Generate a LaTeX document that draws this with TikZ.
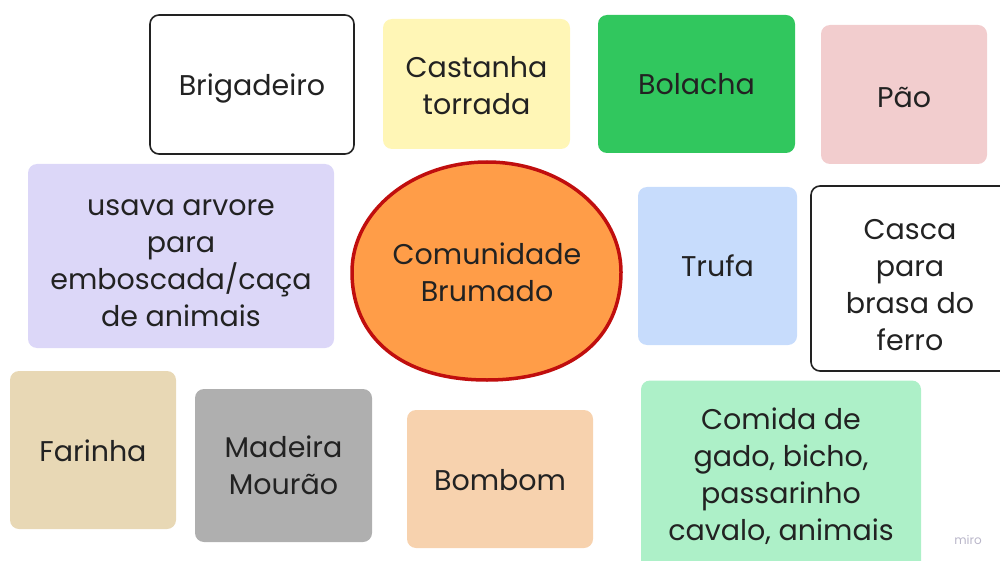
\documentclass[tikz,border=0pt]{standalone}
\usepackage{fontspec}
\setmainfont{Poppins}

\definecolor{inkc}{HTML}{222222}
\definecolor{yellowc}{HTML}{FFF6B6}
\definecolor{greenc}{HTML}{31C75E}
\definecolor{pinkc}{HTML}{F2CDCE}
\definecolor{lilacc}{HTML}{DCD7F8}
\definecolor{bluec}{HTML}{C7DCFC}
\definecolor{tanc}{HTML}{E8D8B5}
\definecolor{grayc}{HTML}{AFAFAF}
\definecolor{peachc}{HTML}{F7D2AE}
\definecolor{mintc}{HTML}{ADF0C8}
\definecolor{orangec}{HTML}{FF9D48}
\definecolor{redc}{HTML}{C00E0E}
\definecolor{miroc}{HTML}{B9B6C9}

\begin{document}
\begin{tikzpicture}[x=1pt, y=-1pt,
    label text/.style={inner sep=0pt, align=center, text=inkc,
      font=\fontsize{28.5}{37}\selectfont},
    card/.style={label text, rounded corners=9pt},
    outlined/.style={card, draw=inkc, line width=1.6pt, fill=white},
    drop/.style={execute at begin node={\rule{0pt}{#1}}}]

    % Page frame.
    \useasboundingbox (0, 0) rectangle (1000, 561);
    \clip (0, 0) rectangle (1000, 561);

    % Top row.
    \node[outlined, drop=29pt, minimum width=204pt, minimum height=139pt] (brig) at (252, 84.5) {Brigadeiro};
    \node[card, drop=61pt, fill=yellowc, minimum width=187pt, minimum height=130pt] (cast) at (476.5, 84) {Castanha\\torrada};
    \node[card, fill=greenc, minimum width=197pt, minimum height=138pt] (bol) at (696.5, 84) {Bolacha};
    \node[card, drop=26pt, fill=pinkc, minimum width=166pt, minimum height=139pt] (pao) at (904, 94.5) {Pão};

    % Middle row, with the community blob in the centre.
    \node[card, drop=142pt, fill=lilacc, minimum width=306pt, minimum height=184pt] (arv) at (181, 256) {usava arvore\\para\\emboscada/caça\\de animais};
    \draw[draw=redc, line width=3.5pt, fill=orangec]
      (621, 272) .. controls (621, 211) and (561, 162) .. (487, 162)
      .. controls (413, 162) and (352, 211) .. (352, 272)
      .. controls (352, 339) and (403, 380) .. (487, 380)
      .. controls (571, 380) and (621, 339) .. (621, 272) -- cycle;
    \node[label text] (com) at (487, 272.5) {Comunidade\\Brumado};
    \node[card, fill=bluec, minimum width=159pt, minimum height=158pt] (truf) at (717.5, 266) {Trufa};
    \node[outlined, drop=144pt, minimum width=198pt, minimum height=185pt] (casca) at (910, 278.5) {Casca\\para\\brasa do\\ferro};

    % Bottom row.
    \node[card, drop=24pt, fill=tanc, minimum width=166pt, minimum height=158pt] (far) at (93, 450) {Farinha};
    \node[card, fill=grayc, minimum width=177pt, minimum height=153pt] (mad) at (283.5, 465.5) {Madeira\\Mourão};
    \node[card, drop=24pt, fill=peachc, minimum width=186pt, minimum height=138pt] (bomb) at (500, 479) {Bombom};
    \node[card, fill=mintc, minimum width=280pt, minimum height=192pt] (comida) at (781, 476.5) {Comida de\\gado, bicho,\\passarinho\\cavalo, animais};

    % Watermark.
    \node[text=miroc, font=\fontsize{12}{14}\selectfont] (miro) at (968, 540) {miro};
\end{tikzpicture}
\end{document}
